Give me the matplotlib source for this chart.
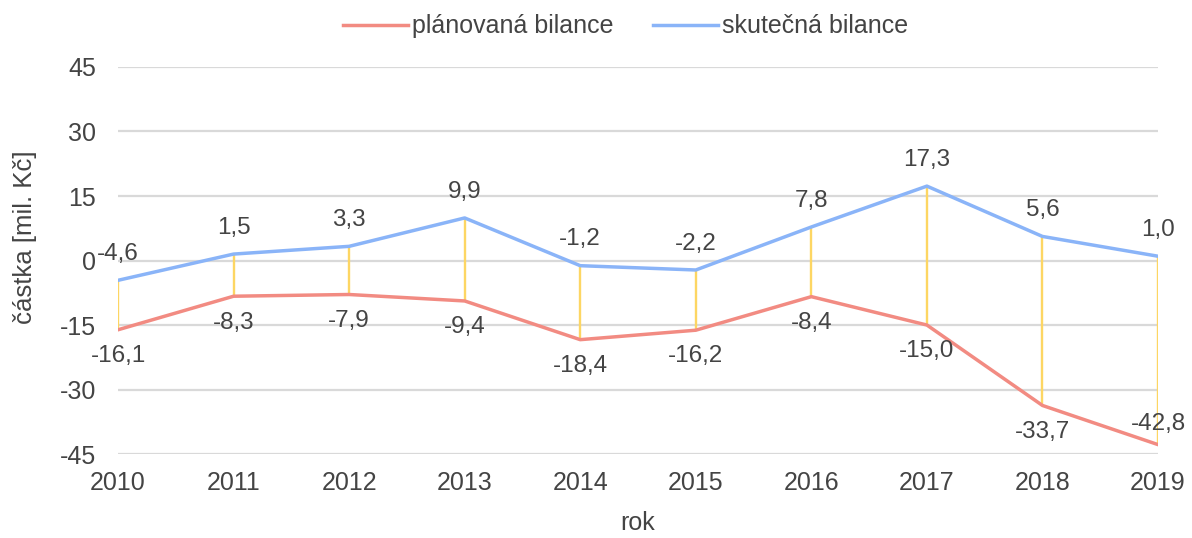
import matplotlib
matplotlib.use('Agg')
import matplotlib.pyplot as plt

plt.rcParams['font.family'] = ['Liberation Sans', 'DejaVu Sans']
plt.rcParams['axes.unicode_minus'] = False

years = [2010, 2011, 2012, 2013, 2014, 2015, 2016, 2017, 2018, 2019]
planned = [-16.1, -8.3, -7.9, -9.4, -18.4, -16.2, -8.4, -15.0, -33.7, -42.8]
actual = [-4.6, 1.5, 3.3, 9.9, -1.2, -2.2, 7.8, 17.3, 5.6, 1.0]
yticks = [-45, -30, -15, 0, 15, 30, 45]

red = '#F28B82'
blue = '#8AB4F8'
yellow = '#FDD663'
txt = '#444444'

fig = plt.figure(figsize=(11.92, 5.38), dpi=100)
ax = fig.add_axes([0.099, 0.156, 0.8725, 0.7195])

# high-low lines
ax.vlines(years, planned, actual, color=yellow, lw=1.7, zorder=2)
ax.plot(years, planned, color=red, lw=2.5, label='plánovaná bilance', zorder=3)
ax.plot(years, actual, color=blue, lw=2.5, label='skutečná bilance', zorder=3)

def fmt(v):
    return f'{v:.1f}'.replace('.', ',')

for x, v in zip(years, actual):
    ax.annotate(fmt(v), (x, v), xytext=(0, 11), textcoords='offset points',
                ha='center', va='bottom', fontsize=17.5, color=txt)
for i, (x, v) in enumerate(zip(years, planned)):
    if i == len(years) - 1:
        ax.annotate(fmt(v), (x, v), xytext=(0, 7), textcoords='offset points',
                    ha='center', va='bottom', fontsize=17.5, color=txt)
    else:
        ax.annotate(fmt(v), (x, v), xytext=(0, -11), textcoords='offset points',
                    ha='center', va='top', fontsize=17.5, color=txt)

ax.set_xlim(years[0], years[-1])
ax.set_ylim(-45, 45)
ax.set_yticks(yticks)
ax.set_xticks(years)
ax.grid(axis='y', color='#d9d9d9', lw=1.6)
ax.set_axisbelow(True)
for s in ax.spines.values():
    s.set_visible(False)
ax.tick_params(length=0, labelsize=18, labelcolor=txt)
ax.tick_params(axis='x', pad=12)
ax.tick_params(axis='y', pad=16)
ax.set_xlabel('rok', fontsize=18, color=txt, labelpad=12)
ax.set_ylabel('částka [mil. Kč]', fontsize=18.5, color=txt)
ax.yaxis.set_label_coords(-0.078, 0.56)

ax.legend(loc='center', bbox_to_anchor=(0.488, 1.105), ncol=2, frameon=False,
          fontsize=18, labelcolor=txt, handlelength=2.6, handletextpad=0.15,
          columnspacing=1.6)

fig.savefig('out.png', dpi=100)
